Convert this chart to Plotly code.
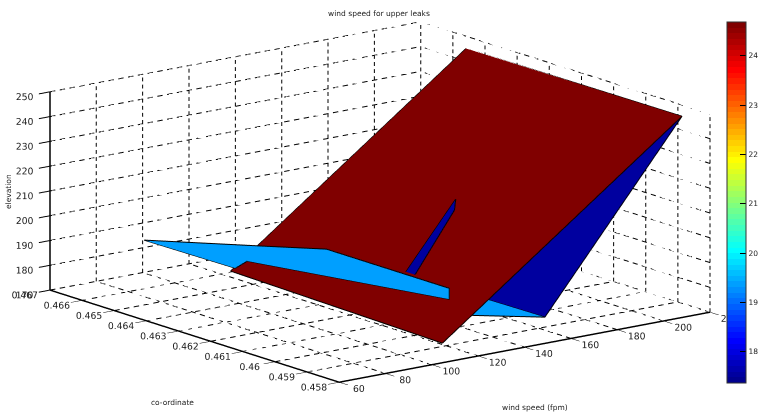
import numpy as np
import plotly.graph_objects as go

# axis ticks
wind_ticks = [60, 80, 100, 120, 140, 160, 180, 200, 220]
coord_ticks = [0.458, 0.459, 0.46, 0.461, 0.462, 0.463, 0.464, 0.465, 0.466, 0.467]
coord_labels = ["0.458", "0.459", "0.46", "0.461", "0.462", "0.463", "0.464", "0.465", "0.466", "0.467"]
elev_ticks = [170, 180, 190, 200, 210, 220, 230, 240, 250]
cbar_ticks = [18, 19, 20, 21, 22, 23, 24]

# surface vertices: wind speed, co-ordinate, elevation
red_x = [107.0, 210.4, 209.6, 108.0]
red_y = [0.45818, 0.45818, 0.46484, 0.46484]
red_z = [176.7, 250, 250, 178.1]

band_x = [100.6, 104.8, 104.8, 107.5, 107.5, 104.8, 104.8]
band_y = [0.467, 0.46365, 0.46163, 0.458, 0.458, 0.46409, 0.46446]
band_z = [183.0, 193.7, 200.8, 199.5, 195.1, 185.8, 181.4]

sliver_x = [127.2, 127.2, 127.2, 127.2]
sliver_y = [0.45922, 0.45926, 0.46057, 0.46088]
sliver_z = [227.0, 222.4, 189.1, 188.7]

wedge_x = [210.4, 162.6, 161.8]
wedge_y = [0.45818, 0.459, 0.46129]
wedge_z = [250, 174, 174]

foot_x = [162.6, 161.8, 144.6]
foot_y = [0.459, 0.46129, 0.46036]
foot_z = [174, 174, 172.4]

red_value = 24.69
band_value = 19.37
blue_value = 17.54
CMIN, CMAX = 17.37, 24.69


def jet_scale(n=64):
    pos = [0.0, 7/63, 23/63, 39/63, 55/63, 1.0]
    r = [0, 0, 0, 255, 255, 128]
    g = [0, 0, 255, 255, 0, 0]
    b = [143, 255, 255, 0, 0, 0]
    out = []
    for k in range(n):
        t = k / (n - 1)
        c = f"rgb({int(np.interp(t,pos,r))},{int(np.interp(t,pos,g))},{int(np.interp(t,pos,b))})"
        out += [[k / n, c], [(k + 1) / n, c]]
    return out


# assemble patches into one mesh
patches = [
    (red_x, red_y, red_z, [(0, 1, 2), (0, 2, 3)], red_value),
    (band_x, band_y, band_z, [(0, 1, 6), (1, 6, 5), (1, 5, 2), (2, 5, 4), (2, 4, 3)], band_value),
    (sliver_x, sliver_y, sliver_z, [(0, 1, 2), (0, 2, 3)], blue_value),
    (wedge_x, wedge_y, wedge_z, [(0, 1, 2)], blue_value),
    (foot_x, foot_y, foot_z, [(0, 1, 2)], band_value),
]
X, Y, Z, I, J, K, C = [], [], [], [], [], [], []
ex, ey, ez = [], [], []
for px, py, pz, tris, val in patches:
    n = len(X)
    X += px; Y += py; Z += pz
    for a, b, c in tris:
        I.append(a + n); J.append(b + n); K.append(c + n); C.append(val)
    ex += px + [px[0], None]; ey += py + [py[0], None]; ez += pz + [pz[0], None]

FONT = "DejaVu Sans"
fig = go.Figure()
fig.add_trace(go.Mesh3d(
    x=X, y=Y, z=Z, i=I, j=J, k=K, intensity=C, intensitymode="cell",
    colorscale=jet_scale(), cmin=CMIN, cmax=CMAX, flatshading=True,
    lighting=dict(ambient=1, diffuse=0, specular=0, fresnel=0, roughness=1),
    hoverinfo="skip",
    colorbar=dict(x=0.959, xanchor="left", y=0.5137, yanchor="middle", lenmode="pixels", len=361,
                  thicknessmode="pixels", thickness=19, tickvals=cbar_ticks,
                  ticks="inside", ticklen=6, tickcolor="black", tickwidth=1,
                  outlinecolor="#333", outlinewidth=1, xpad=0, ypad=0,
                  tickfont=dict(size=7.5, color="#222", family=FONT)),
))
fig.add_trace(go.Scatter3d(x=ex, y=ey, z=ez, mode="lines", line=dict(color="black", width=2),
                           hoverinfo="skip", showlegend=False))

# dashed grid on floor and back walls, cut into short dashes
xmin, xmax = wind_ticks[0], wind_ticks[-1]
ymin, ymax = coord_ticks[0], coord_ticks[-1]
zmin, zmax = elev_ticks[0], elev_ticks[-1]
gx, gy, gz = [], [], []
def seg(p, q, n):
    p, q = np.array(p, float), np.array(q, float)
    for m in range(n):
        a = p + (q - p) * (m / n)
        b = p + (q - p) * ((m + 0.55) / n)
        gx.extend([a[0], b[0], None]); gy.extend([a[1], b[1], None]); gz.extend([a[2], b[2], None])
for t in wind_ticks:
    seg((t, ymin, zmin), (t, ymax, zmin), 32)
    seg((t, ymax, zmin), (t, ymax, zmax), 28)
for t in coord_ticks:
    seg((xmin, t, zmin), (xmax, t, zmin), 38)
    seg((xmax, t, zmin), (xmax, t, zmax), 28)
for t in elev_ticks:
    seg((xmin, ymax, t), (xmax, ymax, t), 38)
    seg((xmax, ymin, t), (xmax, ymax, t), 32)
fig.add_trace(go.Scatter3d(x=gx, y=gy, z=gz, mode="lines", line=dict(color="black", width=2),
                           hoverinfo="skip", showlegend=False))

tick_font = dict(size=7.5, color="#222", family=FONT)
common = dict(showbackground=False, showgrid=False, zeroline=False, showspikes=False,
              showline=True, linecolor="black", linewidth=3, tickangle=0, tickwidth=2, ticks="outside",
              tickcolor="black", tickfont=dict(size=10.5, color="#222", family=FONT), title=dict(text=""))
A = np.radians(37.6); E = np.radians(14.2); D = 1.6
S = 2.25
OFF = dict(x=-0.0081, y=-0.0027, z=-0.02796)
fig.update_layout(
    width=758, height=416, margin=dict(l=0, r=0, t=0, b=0, autoexpand=False), paper_bgcolor="white", showlegend=False,
    title=dict(text="wind speed for upper leaks", x=0.5, xanchor="center", y=0.969, yanchor="middle",
               font=tick_font),
    scene=dict(
        domain=dict(x=[0, 1], y=[0, 1]),
        aspectmode="manual", aspectratio=dict(x=S, y=1.013*S, z=0.437*S),
        xaxis=dict(range=[xmin, xmax], tickmode="array", tickvals=wind_ticks, ticktext=[str(v) for v in wind_ticks], ticklen=14, **common),
        yaxis=dict(range=[ymin, ymax], tickmode="array", tickvals=coord_ticks, ticktext=coord_labels, ticklen=14, **common),
        zaxis=dict(range=[zmin, zmax], tickmode="array", tickvals=elev_ticks, ticktext=[str(v) for v in elev_ticks], ticklen=7, **common),
        camera=dict(projection=dict(type="orthographic"),
                    eye=dict(x=OFF["x"]-D*np.sin(A)*np.cos(E), y=OFF["y"]-D*np.cos(A)*np.cos(E), z=OFF["z"]+D*np.sin(E)),
                    center=OFF, up=dict(x=0, y=0, z=1)),
    ),
    annotations=[
        dict(text="elevation", x=8/758, y=(416-192)/416, xref="paper", yref="paper", showarrow=False, textangle=-90,
             xanchor="center", yanchor="middle", font=tick_font),
        dict(text="co-ordinate", x=172/758, y=(416-402)/416, xref="paper", yref="paper", showarrow=False,
             xanchor="center", yanchor="middle", font=tick_font),
        dict(text="wind speed (fpm)", x=535/758, y=(416-407)/416, xref="paper", yref="paper", showarrow=False,
             xanchor="center", yanchor="middle", font=tick_font),
    ],
)
fig.write_html("out.html", config={"displayModeBar": False}, post_script="document.body.style.margin='0';")
